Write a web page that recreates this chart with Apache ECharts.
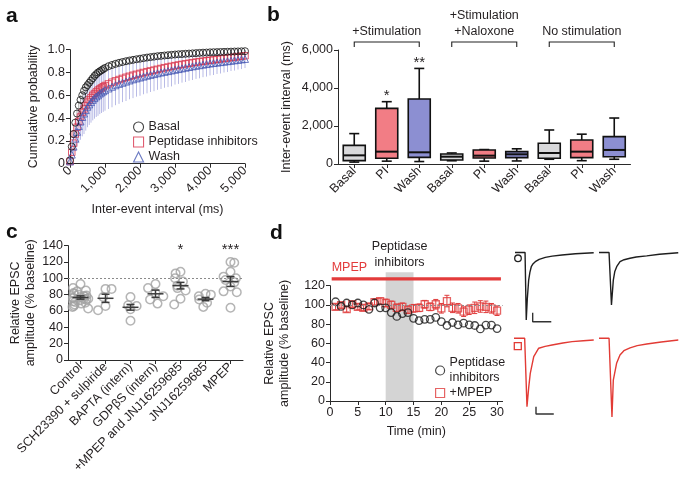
<!DOCTYPE html>
<html><head><meta charset="utf-8">
<script src="https://cdn.jsdelivr.net/npm/echarts@6/dist/echarts.min.js"></script>
<style>html,body{margin:0;padding:0;background:#fff}#c{width:686px;height:482px}</style>
</head><body><div id="c"></div>
<script>
// ---------- Panel a: cumulative probability ----------
const aTime = [0,50,100,150,200,250,300,350,400,450,500,550,600,650,700,750,800,850,900,950,1000,
  1100,1200,1300,1400,1500,1600,1700,1800,1900,2000,2100,2200,2300,2400,2500,2600,2700,2800,2900,
  3000,3100,3200,3300,3400,3500,3600,3700,3800,3900,4000,4100,4200,4300,4400,4500,4600,4700,4800,4900,5000];
const aBasal = [0.03,0.15,0.26,0.36,0.44,0.51,0.56,0.60,0.64,0.67,0.69,0.71,0.73,0.75,0.77,0.785,0.80,0.81,0.82,0.83,0.84,
  0.855,0.866,0.876,0.885,0.892,0.899,0.905,0.911,0.916,0.921,0.926,0.931,0.935,0.939,0.943,0.946,0.949,0.952,0.955,
  0.958,0.960,0.962,0.964,0.966,0.968,0.970,0.972,0.974,0.975,
  0.977,0.978,0.979,0.980,0.981,0.982,0.983,0.984,0.985,0.986,0.987];
const aBasalErr = [0.01,0.02,0.03,0.04,0.04,0.04,0.04,0.04,0.04,0.04,0.04,0.04,0.04,0.04,0.035,0.035,0.035,0.03,0.03,0.03,0.03,
  0.03,0.03,0.03,0.025,0.025,0.025,0.025,0.025,0.02,0.02,0.02,0.02,0.02,0.02,0.02,0.02,0.02,0.02,0.02,
  0.015,0.015,0.015,0.015,0.015,0.015,0.015,0.015,0.015,0.015,
  0.01,0.01,0.01,0.01,0.01,0.01,0.01,0.01,0.01,0.01,0.01];
const aPI = [0.02,0.10,0.18,0.26,0.32,0.37,0.41,0.45,0.48,0.51,0.54,0.56,0.58,0.60,0.615,0.63,0.645,0.655,0.665,0.675,0.685,
  0.70,0.715,0.727,0.738,0.748,0.758,0.767,0.776,0.784,0.792,0.80,0.807,0.814,0.821,0.828,0.835,0.842,0.848,0.854,
  0.86,0.866,0.871,0.876,0.881,0.886,0.891,0.895,0.899,0.903,
  0.907,0.911,0.915,0.919,0.923,0.927,0.931,0.935,0.939,0.943,0.947];
const aPIErr = [0.01,0.03,0.04,0.05,0.05,0.05,0.05,0.05,0.05,0.05,0.05,0.05,0.05,0.05,0.05,0.05,0.05,0.05,0.05,0.05,0.05,
  0.045,0.045,0.045,0.045,0.045,0.045,0.045,0.045,0.045,0.045,0.045,0.045,0.045,0.045,0.045,0.045,0.045,0.045,0.045,
  0.04,0.04,0.04,0.04,0.04,0.04,0.04,0.04,0.04,0.04,
  0.035,0.035,0.035,0.035,0.035,0.035,0.035,0.035,0.035,0.035,0.035];
const aWash = [0.02,0.08,0.15,0.22,0.28,0.33,0.37,0.41,0.44,0.47,0.50,0.52,0.54,0.56,0.575,0.59,0.60,0.615,0.625,0.635,0.645,
  0.66,0.675,0.688,0.70,0.71,0.72,0.73,0.74,0.748,0.756,0.764,0.772,0.779,0.786,0.793,0.80,0.806,0.812,0.818,
  0.824,0.83,0.836,0.842,0.848,0.854,0.859,0.864,0.869,0.874,
  0.879,0.883,0.887,0.891,0.895,0.899,0.903,0.907,0.911,0.915,0.919];
const aWashErr = [0.01,0.05,0.08,0.11,0.13,0.15,0.16,0.17,0.18,0.18,0.18,0.18,0.18,0.18,0.18,0.18,0.18,0.18,0.18,0.18,0.18,
  0.18,0.18,0.175,0.175,0.17,0.17,0.165,0.165,0.16,0.16,0.155,0.155,0.15,0.15,0.145,0.145,0.14,0.14,0.14,
  0.13,0.13,0.125,0.125,0.12,0.12,0.115,0.115,0.11,0.11,
  0.105,0.105,0.1,0.1,0.095,0.095,0.09,0.09,0.085,0.085,0.08];

// ---------- Panel b: box plots ----------
const bCats = ['Basal','PI','Wash','Basal','PI','Wash','Basal','PI','Wash'];
const bMin  = [100, 150, 130, 170, 150, 160, 250, 175, 250];
const bQ1   = [180, 300, 350, 210, 315, 335, 300, 335, 385];
const bMed  = [455, 650, 615, 385, 440, 510, 580, 650, 740];
const bQ3   = [980, 2930, 3420, 530, 740, 650, 1090, 1260, 1440];
const bMax  = [1600, 3280, 5030, 580, 760, 800, 1790, 1570, 2420];
const bFill = ['#d9d9db','#f27d85','#8c8fd2','#d9d9db','#f27d85','#8c8fd2','#d9d9db','#f27d85','#8c8fd2'];
const bStars = ['', '*', '**', '', '', '', '', '', ''];
const bGroupLabels = ['+Stimulation', '+Stimulation\n+Naloxone', 'No stimulation'];
const bGroupStart = [0, 3, 6];
const bGroupEnd = [2, 5, 8];

// ---------- Panel c: relative EPSC amplitude ----------
const cCats = ['Control','SCH23390 + sulpiride','BAPTA (intern)','GDPβS (intern)','+MPEP and JNJ16259685','JNJ16259685','MPEP'];
const cControl = [93, 88, 85, 84, 82, 81, 80, 79, 78, 78, 77, 76, 76, 75, 75, 74, 73, 72, 71, 70, 69, 68, 66, 65, 63];
const cSCH = [87, 87, 77, 66, 61];
const cBAPTA = [77, 67, 66, 62, 48];
const cGDP = [93, 88, 82, 78, 74, 69];
const cMPEPJNJ = [108, 106, 100, 96, 91, 88, 85, 75, 68];
const cJNJ = [81, 80, 78, 74, 70, 65];
const cMPEP = [120, 119, 108, 102, 100, 98, 95, 90, 84, 83, 64];
const cMeans = [76.5, 75.5, 64.5, 81, 91, 74.5, 96];
const cSems = [2, 5, 3.5, 4.5, 4, 2, 6];
const cStars = ['', '', '', '', '*', '', '***'];

// ---------- Panel d: time course ----------
const dTime = [1,2,3,4,5,6,7,8,9,10,11,12,13,14,15,16,17,18,19,20,21,22,23,24,25,26,27,28,29,30];
const dPI = [103.3,98.4,102,100,102,100,95.4,102,97,97,92,88,91,92,86,83.7,85,85,87,82.6,78.6,81.7,79.3,81,79.3,78.6,75,79,79,75.4];
const dMPEP = [98,99.7,95.6,100.7,98,97,98.4,103,104,102,100,97,98,95,96.5,97,100.7,98,100.7,96.5,104,97,96.5,93,95,97,98.4,98,96.5,94];
const dMPEPErr = [3,3,3,3,3,3,3,3,3,4,4,4,4,4,4,4,4,4,5,5,6,5,5,5,5,6,6,6,5,5];
const dBand = [10, 15];
const dBandTop = 134;
const dMpepBar = 127;

// ---------- Example EPSC traces (ms, pA) ----------
const trBlackT1 = [0, 10.8, 12.1, 13.2, 14.7, 16, 17.5, 19.5, 21.8, 26, 32.6, 40, 50.5, 65, 84.6];
const trBlackI1 = [0, 0, -375, -260, -153, -110, -79, -62, -51, -38, -27, -20, -14, -7, -1];
const trBlackT2 = [0, 10.8, 13.4, 15.4, 17, 19, 22.6, 27, 33.3, 40, 51.3, 65, 85.2];
const trBlackI2 = [0, 0, -292, -153, -105, -79, -51, -40, -32, -25, -19, -10, -1];
const trRedT1 = [0, 12, 14.6, 16.5, 18.3, 22.2, 27.8, 35, 42.8, 55, 65.3, 78, 89.7];
const trRedI1 = [0, 0, -468, -340, -240, -126, -68, -55, -46, -32, -23, -17, -12];
const trRedT2 = [0, 11.3, 14.6, 16.1, 19.9, 23.6, 28, 34.9, 43, 53.7, 70, 89.2];
const trRedI2 = [0, 0, -539, -286, -169, -114, -85, -66, -50, -39, -25, -12];
const scaleMs = 20, scalePA = 50;
const blackScaleOrigin = [19, -385];
const redScaleOrigin = [24.75, -518];

// ---------- helpers ----------
const FONT = 'Liberation Sans';
const TXT = '#231f20';
const AX = '#2a2a2a';
function merge(a, b) {
  const o = Array.isArray(a) ? a.slice() : Object.assign({}, a);
  for (const k in b) {
    if (b[k] && typeof b[k] === 'object' && !Array.isArray(b[k]) && a[k] && typeof a[k] === 'object') o[k] = merge(a[k], b[k]);
    else o[k] = b[k];
  }
  return o;
}
const baseAxis = {
  axisLine: {show: true, lineStyle: {color: AX, width: 1}},
  axisTick: {show: true, length: 4, lineStyle: {color: AX, width: 1}},
  axisLabel: {color: TXT, fontSize: 12.5, fontFamily: FONT, margin: 5},
  splitLine: {show: false},
  nameTextStyle: {color: TXT, fontSize: 12.5, fontFamily: FONT}
};
const comma = v => Number(v).toLocaleString('en-US');
const zip = (xs, ys) => xs.map((x, i) => [x, ys[i]]);
const zip3 = (xs, ys, es) => xs.map((x, i) => [x, ys[i], es[i]]);

function errRender(color, cap) {
  return function (params, api) {
    const x = api.value(0), y = api.value(1), e = api.value(2);
    const p1 = api.coord([x, y + e]), p2 = api.coord([x, y - e]);
    const ch = [{type: 'line', shape: {x1: p1[0], y1: p1[1], x2: p2[0], y2: p2[1]}, style: {stroke: color, lineWidth: 1}}];
    if (cap) {
      ch.push({type: 'line', shape: {x1: p1[0] - cap, y1: p1[1], x2: p1[0] + cap, y2: p1[1]}, style: {stroke: color, lineWidth: 1}});
      ch.push({type: 'line', shape: {x1: p2[0] - cap, y1: p2[1], x2: p2[0] + cap, y2: p2[1]}, style: {stroke: color, lineWidth: 1}});
    }
    return {type: 'group', children: ch};
  };
}

const cPoints = [];
[cControl, cSCH, cBAPTA, cGDP, cMPEPJNJ, cJNJ, cMPEP].forEach((g, i) => g.forEach(v => cPoints.push([i, v])));

const dotted100 = {silent: true, symbol: 'none', label: {show: false},
  lineStyle: {color: '#8a8a8a', type: [2, 2], width: 1.2}, data: [{yAxis: 100}]};

const option = {
  animation: false,
  backgroundColor: '#fff',
  textStyle: {fontFamily: FONT},
  grid: [
    {left: 70, top: 49.7, width: 175, height: 114},
    {left: 338, top: 50, width: 292.5, height: 114},
    {left: 68, top: 245.6, width: 175, height: 114.4},
    {left: 330, top: 285.7, width: 172.6, height: 115.3},
    {left: 515, top: 252.5, width: 80, height: 72},
    {left: 599, top: 252.5, width: 80, height: 72},
    {left: 514, top: 338.3, width: 80, height: 87.6},
    {left: 599, top: 338.3, width: 80, height: 87.6}
  ],
  xAxis: [
    merge(baseAxis, {type: 'value', gridIndex: 0, min: 0, max: 5000, interval: 1000,
      axisLabel: {rotate: 45, formatter: comma}, name: 'Inter-event interval (ms)', nameLocation: 'middle', nameGap: 39}),
    merge(baseAxis, {type: 'category', gridIndex: 1, data: bCats, axisTick: {alignWithLabel: true},
      axisLabel: {rotate: 45, interval: 0}}),
    merge(baseAxis, {type: 'category', gridIndex: 2, data: cCats, axisTick: {alignWithLabel: true},
      axisLabel: {rotate: 45, interval: 0}, jitter: 16, jitterOverlap: false, jitterMargin: 0}),
    merge(baseAxis, {type: 'value', gridIndex: 3, min: 0, max: 31, interval: 5,
      axisLabel: {showMaxLabel: false}, name: 'Time (min)', nameLocation: 'middle', nameGap: 24}),
    {type: 'value', gridIndex: 4, min: 0, max: 86, show: false},
    {type: 'value', gridIndex: 5, min: 0, max: 86, show: false},
    {type: 'value', gridIndex: 6, min: 0, max: 90, show: false},
    {type: 'value', gridIndex: 7, min: 0, max: 90, show: false}
  ],
  yAxis: [
    merge(baseAxis, {type: 'value', gridIndex: 0, min: 0, max: 1, interval: 0.2,
      axisLabel: {formatter: v => v === 0 ? '0' : v.toFixed(1)},
      name: 'Cumulative probability', nameLocation: 'middle', nameGap: 30}),
    merge(baseAxis, {type: 'value', gridIndex: 1, min: 0, max: 6000, interval: 2000,
      axisLabel: {formatter: comma}, name: 'Inter-event interval (ms)', nameLocation: 'middle', nameGap: 45}),
    merge(baseAxis, {type: 'value', gridIndex: 2, min: 0, max: 140, interval: 20,
      name: 'Relative EPSC\namplitude (% baseline)', nameLocation: 'middle', nameGap: 30,
      nameTextStyle: {lineHeight: 15}}),
    merge(baseAxis, {type: 'value', gridIndex: 3, min: 0, max: 120, interval: 20,
      name: 'Relative EPSC\namplitude (% baseline)', nameLocation: 'middle', nameGap: 38,
      nameTextStyle: {lineHeight: 15}}),
    {type: 'value', gridIndex: 4, min: -400, max: 0, show: false},
    {type: 'value', gridIndex: 5, min: -400, max: 0, show: false},
    {type: 'value', gridIndex: 6, min: -600, max: 0, show: false},
    {type: 'value', gridIndex: 7, min: -600, max: 0, show: false}
  ],
  legend: [
    {left: 128, top: 114.5, orient: 'vertical', itemWidth: 10, itemHeight: 10, itemGap: 0,
      itemStyle: {borderWidth: 1.1},
      textStyle: {fontSize: 12.5, fontFamily: FONT, color: TXT, lineHeight: 15},
      data: ['Basal', 'Peptidase inhibitors', 'Wash']},
    {left: 430, top: 350.5, orient: 'vertical', itemWidth: 9, itemHeight: 9, itemGap: 0,
      itemStyle: {borderWidth: 1.2},
      textStyle: {fontSize: 12.5, fontFamily: FONT, color: TXT, lineHeight: 15},
      data: ['Peptidase\ninhibitors', '+MPEP']}
  ],
  graphic: [
    {type: 'text', left: 6, top: 6, style: {text: 'a', font: 'bold 21px Liberation Sans', fill: '#111'}},
    {type: 'text', left: 267, top: 5, style: {text: 'b', font: 'bold 21px Liberation Sans', fill: '#111'}},
    {type: 'text', left: 6, top: 222, style: {text: 'c', font: 'bold 21px Liberation Sans', fill: '#111'}},
    {type: 'text', left: 270, top: 223, style: {text: 'd', font: 'bold 21px Liberation Sans', fill: '#111'}},
    {type: 'circle', shape: {cx: 518, cy: 258.3, r: 3.3}, style: {fill: 'none', stroke: '#222', lineWidth: 1.3}},
    {type: 'rect', shape: {x: 514.3, y: 342.6, width: 7, height: 7}, style: {fill: 'none', stroke: '#e23b35', lineWidth: 1.3}}
  ],
  series: [
    // ---- a: error bars
    {type: 'custom', name: '_eWash', xAxisIndex: 0, yAxisIndex: 0, clip: false, silent: true,
      data: zip3(aTime, aWash, aWashErr), encode: {x: 0, y: 1}, renderItem: errRender('#b9bbe6')},
    {type: 'custom', name: '_ePI', xAxisIndex: 0, yAxisIndex: 0, clip: false, silent: true,
      data: zip3(aTime, aPI, aPIErr), encode: {x: 0, y: 1}, renderItem: errRender('#f3a9b0')},
    {type: 'custom', name: '_eBasal', xAxisIndex: 0, yAxisIndex: 0, clip: false, silent: true,
      data: zip3(aTime, aBasal, aBasalErr), encode: {x: 0, y: 1}, renderItem: errRender('#a8a8a8')},
    // ---- a: markers
    {type: 'scatter', name: 'Peptidase inhibitors', xAxisIndex: 0, yAxisIndex: 0, symbol: 'rect', symbolSize: 6.5,
      data: zip(aTime, aPI), itemStyle: {color: 'transparent', borderColor: '#d8344d', borderWidth: 1}},
    {type: 'scatter', name: 'Wash', xAxisIndex: 0, yAxisIndex: 0, symbol: 'triangle', symbolSize: 7,
      data: zip(aTime, aWash), itemStyle: {color: 'transparent', borderColor: '#4557b3', borderWidth: 1}},
    {type: 'scatter', name: 'Basal', xAxisIndex: 0, yAxisIndex: 0, symbol: 'circle', symbolSize: 7,
      data: zip(aTime, aBasal), itemStyle: {color: 'transparent', borderColor: '#151515', borderWidth: 1}},

    // ---- b: boxes
    {type: 'custom', name: '_box', xAxisIndex: 1, yAxisIndex: 1, clip: false, silent: true,
      data: bCats.map((c, i) => [i, bMin[i], bQ1[i], bMed[i], bQ3[i], bMax[i]]),
      encode: {x: 0, y: [1, 2, 3, 4, 5]},
      renderItem(params, api) {
        const i = params.dataIndex;
        const x = api.coord([i, 0])[0];
        const y = k => api.coord([i, api.value(k)])[1];
        const yMin = y(1), yQ1 = y(2), yMed = y(3), yQ3 = y(4), yMax = y(5);
        const w = 22, cw = 10, st = {stroke: '#111', lineWidth: 1.6};
        const ch = [
          {type: 'line', shape: {x1: x, y1: yMax, x2: x, y2: yQ3}, style: st},
          {type: 'line', shape: {x1: x - cw / 2, y1: yMax, x2: x + cw / 2, y2: yMax}, style: st},
          {type: 'line', shape: {x1: x, y1: yMin, x2: x, y2: yQ1}, style: st},
          {type: 'line', shape: {x1: x - cw / 2, y1: yMin, x2: x + cw / 2, y2: yMin}, style: st},
          {type: 'rect', shape: {x: x - w / 2, y: yQ3, width: w, height: yQ1 - yQ3}, style: {fill: bFill[i], stroke: '#111', lineWidth: 1.6}},
          {type: 'line', shape: {x1: x - w / 2, y1: yMed, x2: x + w / 2, y2: yMed}, style: {stroke: '#111', lineWidth: 2}}
        ];
        if (bStars[i]) ch.push({type: 'text', style: {text: bStars[i], x: x, y: yMax + 2, align: 'center', verticalAlign: 'bottom',
          fontSize: 15, fontFamily: FONT, fill: TXT}});
        return {type: 'group', children: ch};
      }},
    // ---- b: group brackets and labels
    {type: 'custom', name: '_groups', xAxisIndex: 1, yAxisIndex: 1, clip: false, silent: true,
      data: bGroupStart.map((s, k) => [s, bGroupEnd[k]]), encode: {x: [0, 1]},
      renderItem(params, api) {
        const k = params.dataIndex;
        const xs = api.coord([api.value(0), 6420]), xe = api.coord([api.value(1), 6420]);
        const yt = api.coord([0, 6160])[1];
        const ty = api.coord([0, 6560])[1];
        return {type: 'group', children: [
          {type: 'polyline', shape: {points: [[xs[0], yt], [xs[0], xs[1]], [xe[0], xe[1]], [xe[0], yt]]},
            style: {stroke: '#222', lineWidth: 1.1, fill: null}},
          {type: 'text', style: {text: bGroupLabels[k], x: (xs[0] + xe[0]) / 2, y: ty, align: 'center', verticalAlign: 'bottom',
            fontSize: 12.5, fontFamily: FONT, fill: TXT, lineHeight: 16}}
        ]};
      }},

    // ---- c: points
    {type: 'scatter', name: '_cpts', xAxisIndex: 2, yAxisIndex: 2, symbol: 'circle', symbolSize: 8.5,
      data: cPoints, itemStyle: {color: 'transparent', borderColor: '#a3a3a3', borderWidth: 1.5},
      markLine: dotted100},
    // ---- c: mean +- SEM and stars
    {type: 'custom', name: '_cmean', xAxisIndex: 2, yAxisIndex: 2, clip: false, silent: true, z: 5,
      data: cMeans.map((m, i) => [i, m, cSems[i]]), encode: {x: 0, y: 1},
      renderItem(params, api) {
        const i = params.dataIndex;
        const m = api.coord([i, api.value(1)]);
        const hi = api.coord([i, api.value(1) + api.value(2)])[1];
        const lo = api.coord([i, api.value(1) - api.value(2)])[1];
        const st = {stroke: '#3a3a3a', lineWidth: 1.5};
        const ch = [
          {type: 'line', shape: {x1: m[0] - 8, y1: m[1], x2: m[0] + 8, y2: m[1]}, style: st},
          {type: 'line', shape: {x1: m[0], y1: hi, x2: m[0], y2: lo}, style: st},
          {type: 'line', shape: {x1: m[0] - 4, y1: hi, x2: m[0] + 4, y2: hi}, style: st},
          {type: 'line', shape: {x1: m[0] - 4, y1: lo, x2: m[0] + 4, y2: lo}, style: st}
        ];
        if (cStars[i]) ch.push({type: 'text', style: {text: cStars[i], x: m[0], y: api.coord([i, 135])[1],
          align: 'center', verticalAlign: 'middle', fontSize: 15, fontFamily: FONT, fill: TXT}});
        return {type: 'group', children: ch};
      }},

    // ---- d: band, MPEP bar, annotations
    {type: 'custom', name: '_dann', xAxisIndex: 3, yAxisIndex: 3, clip: false, silent: true, z: 0,
      data: [[dBand[0], dBand[1]]], encode: {x: [0, 1]},
      renderItem(params, api) {
        const p0 = api.coord([api.value(0), dBandTop]), p1 = api.coord([api.value(1), 0]);
        const l0 = api.coord([0.3, dMpepBar]), l1 = api.coord([30.7, dMpepBar]);
        const mid = (p0[0] + p1[0]) / 2;
        return {type: 'group', children: [
          {type: 'rect', shape: {x: p0[0], y: p0[1], width: p1[0] - p0[0], height: p1[1] - p0[1]}, style: {fill: '#d4d4d4'}},
          {type: 'line', shape: {x1: l0[0], y1: l0[1], x2: l1[0], y2: l1[1]}, style: {stroke: '#e33b3b', lineWidth: 3.2}},
          {type: 'text', style: {text: 'MPEP', x: l0[0], y: api.coord([0, 138.5])[1], align: 'left', verticalAlign: 'middle',
            fontSize: 12.5, fontFamily: FONT, fill: '#e33b3b'}},
          {type: 'text', style: {text: 'Peptidase\ninhibitors', x: mid, y: api.coord([0, 135])[1], align: 'center', verticalAlign: 'bottom',
            fontSize: 12.5, fontFamily: FONT, fill: TXT, lineHeight: 16.5}}
        ]};
      }},
    {type: 'custom', name: '_dErr', xAxisIndex: 3, yAxisIndex: 3, clip: false, silent: true,
      data: zip3(dTime, dMPEP, dMPEPErr), encode: {x: 0, y: 1}, renderItem: errRender('#e03c3c', 2.5)},
    {type: 'scatter', name: '+MPEP', xAxisIndex: 3, yAxisIndex: 3, symbol: 'rect', symbolSize: 7,
      data: zip(dTime, dMPEP), itemStyle: {color: 'transparent', borderColor: '#e03c3c', borderWidth: 1.3},
      markLine: dotted100},
    {type: 'scatter', name: 'Peptidase\ninhibitors', xAxisIndex: 3, yAxisIndex: 3, symbol: 'circle', symbolSize: 7.5,
      data: zip(dTime, dPI), itemStyle: {color: 'transparent', borderColor: '#1a1a1a', borderWidth: 1.3}},

    // ---- traces
    {type: 'line', xAxisIndex: 4, yAxisIndex: 4, data: zip(trBlackT1, trBlackI1), symbol: 'none', clip: false,
      lineStyle: {color: '#1e1e1e', width: 1.4}},
    {type: 'line', xAxisIndex: 4, yAxisIndex: 4, symbol: 'none', clip: false, lineStyle: {color: '#333', width: 1.4},
      data: [[blackScaleOrigin[0], blackScaleOrigin[1] + scalePA], blackScaleOrigin, [blackScaleOrigin[0] + scaleMs, blackScaleOrigin[1]]]},
    {type: 'line', xAxisIndex: 5, yAxisIndex: 5, data: zip(trBlackT2, trBlackI2), symbol: 'none', clip: false,
      lineStyle: {color: '#1e1e1e', width: 1.4}},
    {type: 'line', xAxisIndex: 6, yAxisIndex: 6, data: zip(trRedT1, trRedI1), symbol: 'none', clip: false,
      lineStyle: {color: '#e23b35', width: 1.4}},
    {type: 'line', xAxisIndex: 6, yAxisIndex: 6, symbol: 'none', clip: false, lineStyle: {color: '#333', width: 1.4},
      data: [[redScaleOrigin[0], redScaleOrigin[1] + scalePA], redScaleOrigin, [redScaleOrigin[0] + scaleMs, redScaleOrigin[1]]]},
    {type: 'line', xAxisIndex: 7, yAxisIndex: 7, data: zip(trRedT2, trRedI2), symbol: 'none', clip: false,
      lineStyle: {color: '#e23b35', width: 1.4}}
  ]
};

const chart = echarts.init(document.getElementById('c'));
chart.setOption(option);
</script>
</body></html>
